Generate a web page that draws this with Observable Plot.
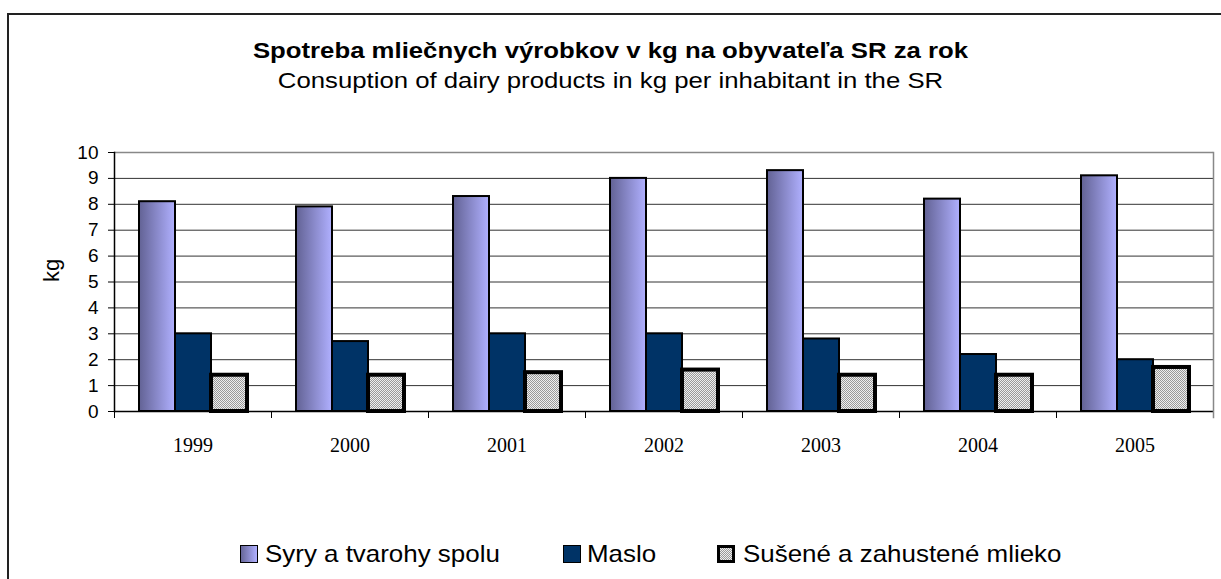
<!DOCTYPE html>
<html>
<head>
<meta charset="utf-8">
<script src="https://cdn.jsdelivr.net/npm/d3@7"></script>
<script src="https://cdn.jsdelivr.net/npm/@observablehq/plot@0.6"></script>
<style>
  html, body { margin: 0; padding: 0; background: #fff; width: 1221px; height: 579px; overflow: hidden; }
  body { position: relative; font-family: "Liberation Sans", Arial, sans-serif; color: #000; }
  #frame { position: absolute; left: 7px; top: 13px; width: 1400px; height: 800px; border: 2px solid #222; box-sizing: border-box; }
  .ttl { position: absolute; left: 0; width: 1221px; text-align: center; font-size: 22px; line-height: 24px; transform: scaleX(1.17); transform-origin: 610.5px 0; white-space: nowrap; }
  #title { top: 39px; font-weight: bold; }
  #subtitle { top: 69px; }
  #chart { position: absolute; left: 0; top: 130px; }
  .item { position: absolute; top: 542px; height: 24px; }
  .sw { position: absolute; top: 3px; width: 18px; height: 18px; box-sizing: border-box; border: 1px solid #000; }
  .sw.s0 { background: linear-gradient(to right, #666699, #b0b0ff); }
  .sw.s1 { background: #003366; }
  .sw.s2 { border: 3px solid #000; background: repeating-conic-gradient(#999 0 25%, #eee 0 50%) 0 0 / 2px 2px; }
  .lt { position: absolute; top: 0; font-size: 24px; line-height: 24px; white-space: nowrap; transform: scaleX(1.08); transform-origin: 0 0; }
</style>
</head>
<body>
<div id="frame"></div>
<div id="title" class="ttl">Spotreba mliečnych výrobkov v kg na obyvateľa SR za rok</div>
<div id="subtitle" class="ttl">Consuption of dairy products in kg per inhabitant in the SR</div>
<div id="chart"></div>
<div id="legend"></div>
<script>
const years = ["1999", "2000", "2001", "2002", "2003", "2004", "2005"];
const seriesNames = ["Syry a tvarohy spolu", "Maslo", "Sušené a zahustené mlieko"];
const syry   = [8.1, 7.9, 8.3, 9.0, 9.3, 8.2, 9.1];
const maslo  = [3.0, 2.7, 3.0, 3.0, 2.8, 2.2, 2.0];
const susene = [1.4, 1.4, 1.5, 1.6, 1.4, 1.4, 1.7];
const yTicks = [0, 1, 2, 3, 4, 5, 6, 7, 8, 9, 10];
const gridLines = [1, 2, 3, 4, 5, 6, 7, 8, 9];

const seriesValues = [syry, maslo, susene];
const rows = years.flatMap((yr, i) => seriesNames.map((s, j) => ({year: yr, series: s, value: seriesValues[j][i]})));
const bySeries = (s) => rows.filter(d => d.series === s);

const defsMark = () => {
  const defs = d3.create("svg:defs");
  const g = defs.append("linearGradient").attr("id", "gSyry").attr("x1", 0).attr("x2", 1).attr("y1", 0).attr("y2", 0);
  g.append("stop").attr("offset", "0%").attr("stop-color", "#626294");
  g.append("stop").attr("offset", "100%").attr("stop-color", "#b0b0ff");
  const p = defs.append("pattern").attr("id", "pSus").attr("width", 2).attr("height", 2).attr("patternUnits", "userSpaceOnUse");
  p.append("rect").attr("width", 2).attr("height", 2).attr("fill", "#eeeeee");
  p.append("rect").attr("width", 1).attr("height", 1).attr("fill", "#999999");
  p.append("rect").attr("x", 1).attr("y", 1).attr("width", 1).attr("height", 1).attr("fill", "#999999");
  return defs.node();
};

const chart = Plot.plot({
  width: 1221,
  height: 340,
  marginLeft: 114,
  marginRight: 8,
  marginTop: 22,
  marginBottom: 59,
  style: {fontFamily: "'Liberation Sans', Arial, sans-serif", fontSize: "18px", color: "#000", background: "transparent"},
  fx: {domain: years, padding: 0, label: null},
  x: {domain: seriesNames, paddingInner: 0, paddingOuter: 0.68, axis: null},
  y: {domain: [0, 10], label: null},
  marks: [
    defsMark,
    Plot.ruleY(gridLines, {stroke: "#333", strokeWidth: 1}),
    Plot.ruleY([10], {stroke: "#888", strokeWidth: 1.5}),
    Plot.barY(bySeries(seriesNames[0]), {fx: "year", x: "series", y: "value", fill: "url(#gSyry)", stroke: "#000", strokeWidth: 2}),
    Plot.barY(bySeries(seriesNames[1]), {fx: "year", x: "series", y: "value", fill: "#003366", stroke: "#000", strokeWidth: 2}),
    Plot.barY(bySeries(seriesNames[2]), {fx: "year", x: "series", y: "value", fill: "url(#pSus)", stroke: "#000", strokeWidth: 4}),
    Plot.ruleY([0], {stroke: "#000", strokeWidth: 1.5}),
    Plot.frame({anchor: "left", stroke: "#000", strokeWidth: 1, insetTop: 259, insetBottom: -6}),
    Plot.frame({anchor: "left", facetAnchor: "left", stroke: "#000", strokeWidth: 1.5}),
    Plot.frame({anchor: "right", facetAnchor: "right", stroke: "#888", strokeWidth: 1.5, insetBottom: -6}),
    Plot.axisY({ticks: yTicks, tickSize: 6, tickPadding: 10, fontSize: 19, label: null, stroke: "#000"}),
    Plot.text(["kg"], {fx: () => years[0], frameAnchor: "left", rotate: -90, dx: -63, fontSize: 22}),
    Plot.axisFx({anchor: "bottom", tickSize: 0, tickPadding: 26, fontSize: 20, fontFamily: "'Liberation Serif', 'Times New Roman', serif", label: null})
  ]
});
document.getElementById("chart").appendChild(chart);

const legend = document.getElementById("legend");
const swatchLeft = [240, 563, 717];
const textLeft = [265, 587, 743];
seriesNames.forEach((s, i) => {
  const sw = document.createElement("div");
  sw.className = "item";
  sw.style.left = swatchLeft[i] + "px";
  sw.innerHTML = `<div class="sw s${i}"></div>`;
  const t = document.createElement("div");
  t.className = "item";
  t.style.left = textLeft[i] + "px";
  const sp = document.createElement("span");
  sp.className = "lt";
  sp.textContent = s;
  t.appendChild(sp);
  legend.appendChild(sw);
  legend.appendChild(t);
});
</script>
</body>
</html>
